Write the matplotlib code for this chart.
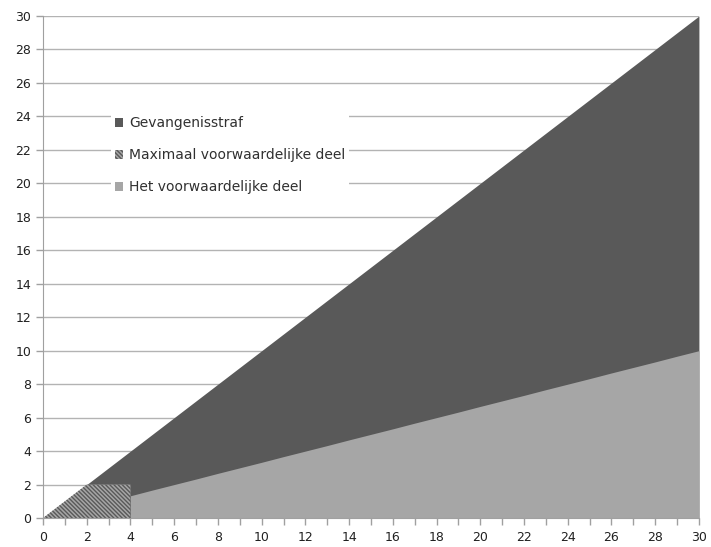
import numpy as np
import matplotlib.pyplot as plt
from matplotlib.patches import Patch

plt.rcParams['font.family'] = ['DejaVu Sans']
plt.rcParams['hatch.linewidth'] = 1.0

# category axis 0..30
x = list(range(31))
gevangenisstraf = [0, 1, 2, 3, 4, 5, 6, 7, 8, 9, 10, 11, 12, 13, 14, 15,
                   16, 17, 18, 19, 20, 21, 22, 23, 24, 25, 26, 27, 28, 29, 30]
# only defined for the first five categories
max_x = [0, 1, 2, 3, 4]
max_voorwaardelijk = [0, 1, 2, 2, 2]
# starts at category 4
vw_x = list(range(4, 31))
voorwaardelijk = [1.33, 1.67, 2.0, 2.33, 2.67, 3.0, 3.33, 3.67, 4.0, 4.33,
                  4.67, 5.0, 5.33, 5.67, 6.0, 6.33, 6.67, 7.0, 7.33, 7.67,
                  8.0, 8.33, 8.67, 9.0, 9.33, 9.67, 10.0]

labels = ['Gevangenisstraf', 'Maximaal voorwaardelijke deel', 'Het voorwaardelijke deel']
dark = '#595959'
light = '#a6a6a6'

fig = plt.figure(figsize=(7.11, 5.47), dpi=100)
ax = fig.add_axes([0.0605, 0.053, 0.9225, 0.9177])

ax.fill_between(x, 0, gevangenisstraf, color=dark, lw=0, zorder=2)
ax.fill_between(max_x, 0, max_voorwaardelijk, facecolor=light, edgecolor=dark,
                hatch='\\' * 8, lw=0, zorder=3)
ax.fill_between(vw_x, 0, voorwaardelijk, color=light, lw=0, zorder=3)

ax.set_xlim(0, 30)
ax.set_ylim(0, 30)
ax.set_xticks(range(0, 31, 2))
ax.set_xticks(range(0, 31), minor=True)
ax.set_yticks(range(0, 31, 2))
ax.yaxis.grid(True, color='#b3b3b3', lw=1, zorder=0)
ax.set_axisbelow(True)

for s in ['top', 'right']:
    ax.spines[s].set_visible(False)
for s in ['left', 'bottom']:
    ax.spines[s].set_color('#a0a0a0')
    ax.spines[s].set_zorder(5)
ax.tick_params(axis='both', which='both', color='#a0a0a0', labelsize=9,
               labelcolor='#202020', length=5, width=1)
ax.tick_params(axis='x', pad=4)

handles = [Patch(facecolor=dark, edgecolor='none'),
           Patch(facecolor=light, edgecolor=dark, hatch='\\' * 8, lw=0),
           Patch(facecolor=light, edgecolor='none')]
leg = ax.legend(handles, labels, loc='upper left', bbox_to_anchor=(0.156, 0.795),
                bbox_transform=fig.transFigure, frameon=True, fancybox=False,
                edgecolor='none', facecolor='white', framealpha=1,
                fontsize=10, labelspacing=1.3, handlelength=0.6,
                handleheight=0.6, handletextpad=0.4, borderpad=0.3,
                borderaxespad=0)
for t in leg.get_texts():
    t.set_color('#303030')
leg.set_zorder(6)

fig.savefig('out.png', dpi=100)
